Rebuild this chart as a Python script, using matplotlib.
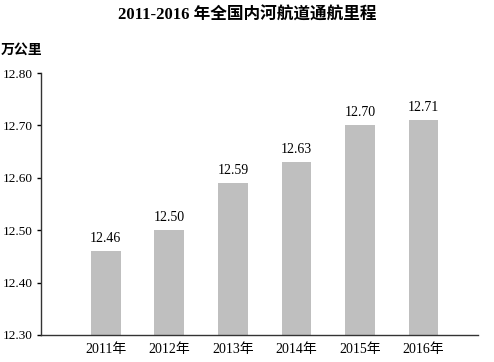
import matplotlib.pyplot as plt

years = ["2011年", "2012年", "2013年", "2014年", "2015年", "2016年"]
mileage = [12.46, 12.50, 12.59, 12.63, 12.70, 12.71]
yticks = [12.30, 12.40, 12.50, 12.60, 12.70, 12.80]

FONTS = ["Liberation Serif", "Noto Sans CJK SC"]
plt.rcParams["font.family"] = FONTS


def create_chart():
    fig = plt.figure(figsize=(4.94, 3.62), dpi=100)
    ax = fig.add_axes([0.083, 0.075, 0.885, 0.723])

    x = list(range(len(years)))
    ax.bar(x, mileage, width=0.47, color="#bfbfbf", zorder=2)
    for xi, v in zip(x, mileage):
        ax.text(xi, v + 0.012, "%.2f" % v, ha="center", va="bottom", fontsize=10)

    ax.set_ylim(12.30, 12.80)
    ax.set_yticks(yticks)
    ax.set_yticklabels(["%.2f" % t for t in yticks], fontsize=9.5)
    ax.set_xlim(-1.02, 5.86)
    ax.set_xticks(x)
    ax.set_xticklabels(years, fontsize=10)
    ax.tick_params(axis="x", length=0, pad=6)
    ax.tick_params(axis="y", length=3, width=1, direction="out", pad=3)

    for side in ["top", "right"]:
        ax.spines[side].set_visible(False)
    for side in ["left", "bottom"]:
        ax.spines[side].set_linewidth(1.0)
        ax.spines[side].set_color("#333333")

    fig.text(0.5, 0.958, "2011-2016 年全国内河航道通航里程", ha="center", va="center",
             fontsize=12, fontweight="bold")
    fig.text(0.002, 0.862, "万公里", ha="left", va="center", fontsize=10, fontweight="bold")

    fig.savefig("out.png", dpi=100)


if __name__ == "__main__":
    create_chart()
